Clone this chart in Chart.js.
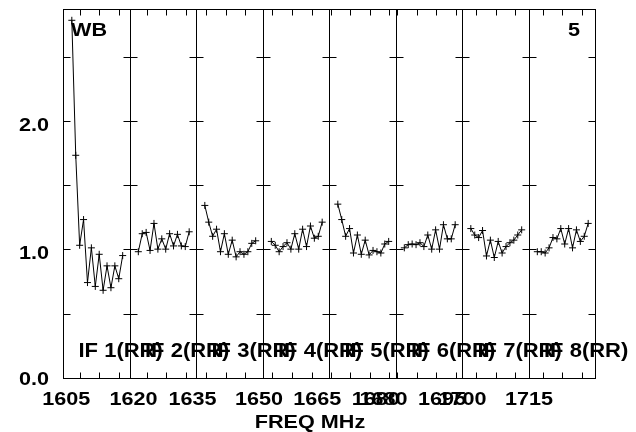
<!DOCTYPE html>
<html lang="en">
  <head>
    <meta charset="UTF-8" />
    <title>WB amplitude per IF</title>
    <script src="https://cdn.jsdelivr.net/npm/chart.js"></script>
    <style>
      body { margin: 0; background: #fff; }
      canvas { display: block; }
    </style>
  </head>
  <body>
    <canvas id="myChart" width="636" height="432"></canvas>
    <script>
      // channels plotted in every IF (edge channels dropped)
      const channels = [2, 3, 4, 5, 6, 7, 8, 9, 10, 11, 12, 13, 14, 15];
      // start frequency (MHz) of each IF panel, each panel is 17 MHz wide
      const ifStart = [1600.7, 1615.55, 1632.45, 1647.45, 1664.57, 1679.63, 1696.42, 1711.4];
      const panelWidth = 17;
      const ifLabels = ['IF 1(RR)', 'IF 2(RR)', 'IF 3(RR)', 'IF 4(RR)', 'IF 5(RR)', 'IF 6(RR)', 'IF 7(RR)', 'IF 8(RR)'];

      const if1 = [2.79, 1.74, 1.04, 1.24, 0.75, 1.02, 0.72, 0.97, 0.69, 0.88, 0.71, 0.88, 0.78, 0.96];
      const if2 = [0.99, 1.13, 1.14, 1.00, 1.21, 1.01, 1.09, 1.01, 1.13, 1.035, 1.125, 1.035, 1.03, 1.145];
      const if3 = [1.35, 1.22, 1.11, 1.165, 0.99, 1.13, 0.97, 1.08, 0.95, 0.99, 0.97, 0.99, 1.055, 1.075];
      const if4 = [1.07, 1.04, 0.99, 1.03, 1.06, 1.01, 1.13, 1.01, 1.165, 1.03, 1.19, 1.095, 1.11, 1.22];
      const if5 = [1.36, 1.24, 1.11, 1.17, 0.98, 1.12, 0.97, 1.08, 0.965, 1.00, 0.99, 0.98, 1.05, 1.07];
      const if6 = [1.02, 1.045, 1.05, 1.045, 1.06, 1.03, 1.12, 1.01, 1.16, 1.01, 1.2, 1.09, 1.09, 1.2];
      const if7 = [1.17, 1.12, 1.10, 1.155, 0.957, 1.08, 0.945, 1.07, 0.98, 1.03, 1.06, 1.08, 1.12, 1.16];
      const if8 = [0.99, 0.99, 0.98, 1.02, 1.10, 1.09, 1.17, 1.05, 1.17, 1.02, 1.16, 1.07, 1.11, 1.21];
      const ifValues = [if1, if2, if3, if4, if5, if6, if7, if8];

      // frequency tick labels and the panel each one belongs to
      const xTickLabels = ['1605', '1620', '1635', '1650', '1665', '1680', '1680', '1695', '1700', '1715'];
      const xTickPanel = [0, 1, 2, 3, 4, 4, 5, 5, 6, 7];
      const yTickLabels = ['0.0', '1.0', '2.0'];
      const yTickValues = [0, 1, 2];
      const yMinor = 0.5;
      const yMax = 2.87;

      const FONT = 'bold 18px "Liberation Sans", Arial, sans-serif';
      const IF_FONT = 'bold 20px "Liberation Sans", Arial, sans-serif';

      function stretchText(ctx, str, x, y, align, sx) {
        ctx.save();
        ctx.translate(x, y);
        ctx.scale(sx || 1.2, 1);
        ctx.textAlign = align;
        ctx.textBaseline = 'alphabetic';
        ctx.fillText(str, 0, 0);
        ctx.restore();
      }

      // keep 1px lines sharp
      const snap = v => Math.round(v) - 0.5;

      const axesPlugin = {
        id: 'aipsAxes',
        afterDraw(chart) {
          const ctx = chart.ctx;
          const xs = chart.scales.x;
          const ys = chart.scales.y;
          const a = chart.chartArea;
          const L = snap(a.left), R = snap(a.right), T = snap(a.top), B = snap(a.bottom);
          ctx.save();
          ctx.strokeStyle = '#000';
          ctx.fillStyle = '#000';
          ctx.lineWidth = 1;

          // frame
          ctx.strokeRect(L, T, R - L, B - T);

          // panel dividers
          const dividers = [];
          for (let p = 1; p < ifStart.length; p++) {
            dividers.push(snap(xs.getPixelForValue(p * panelWidth)));
          }
          ctx.beginPath();
          dividers.forEach(px => { ctx.moveTo(px, T); ctx.lineTo(px, B); });
          ctx.stroke();

          // y ticks on the frame and both sides of each divider
          ctx.beginPath();
          for (let v = yMinor; v < yMax; v += yMinor) {
            const py = snap(ys.getPixelForValue(v));
            ctx.moveTo(L, py); ctx.lineTo(L + 7, py);
            ctx.moveTo(R, py); ctx.lineTo(R - 7, py);
            dividers.forEach(px => { ctx.moveTo(px - 7, py); ctx.lineTo(px + 7, py); });
          }
          ctx.stroke();

          // x ticks every 5 MHz inside each panel
          ctx.beginPath();
          ifStart.forEach((f0, p) => {
            for (let f = Math.ceil(f0 / 5) * 5; f < f0 + panelWidth; f += 5) {
              const px = snap(xs.getPixelForValue(p * panelWidth + (f - f0)));
              ctx.moveTo(px, T); ctx.lineTo(px, T + 6);
              ctx.moveTo(px, B); ctx.lineTo(px, B - 6);
            }
          });
          ctx.stroke();

          ctx.font = FONT;
          // x tick labels
          xTickLabels.forEach((lab, i) => {
            const p = xTickPanel[i];
            const px = xs.getPixelForValue(p * panelWidth + (Number(lab) - ifStart[p]));
            stretchText(ctx, lab, px - 14.5, a.bottom + 26, 'center');
          });
          // y tick labels
          yTickLabels.forEach((lab, i) => {
            const py = ys.getPixelForValue(yTickValues[i]);
            stretchText(ctx, lab, 49, Math.min(py + 9, a.bottom + 6), 'right');
          });
          stretchText(ctx, 'FREQ MHz', 310, 428, 'center');
          stretchText(ctx, 'WB', 71, 36, 'left');
          stretchText(ctx, '5', 580, 36, 'right');
          // IF labels
          ctx.font = IF_FONT;
          ifLabels.forEach((lab, p) => {
            const px = xs.getPixelForValue(p * panelWidth);
            stretchText(ctx, lab, px + 14.5, 357, 'left', 1.1);
          });
          ctx.restore();
        }
      };

      const datasets = ifValues.map((vals, p) => ({
        data: vals.map((v, i) => ({ x: p * panelWidth + channels[i], y: v })),
        showLine: true,
        borderColor: '#000',
        backgroundColor: '#000',
        borderWidth: 1,
        pointStyle: 'cross',
        pointRadius: 3.5,
        pointBorderWidth: 1,
        tension: 0
      }));

      const ctx = document.getElementById('myChart').getContext('2d');
      const myChart = new Chart(ctx, {
        type: 'scatter',
        data: { datasets: datasets },
        options: {
          responsive: false,
          animation: false,
          layout: { padding: { left: 64, right: 40, top: 10, bottom: 53 } },
          plugins: { legend: { display: false }, tooltip: { enabled: false } },
          scales: {
            x: { type: 'linear', min: 0, max: panelWidth * ifStart.length, display: false },
            y: { type: 'linear', min: 0, max: yMax, display: false }
          }
        },
        plugins: [axesPlugin]
      });
    </script>
  </body>
</html>
